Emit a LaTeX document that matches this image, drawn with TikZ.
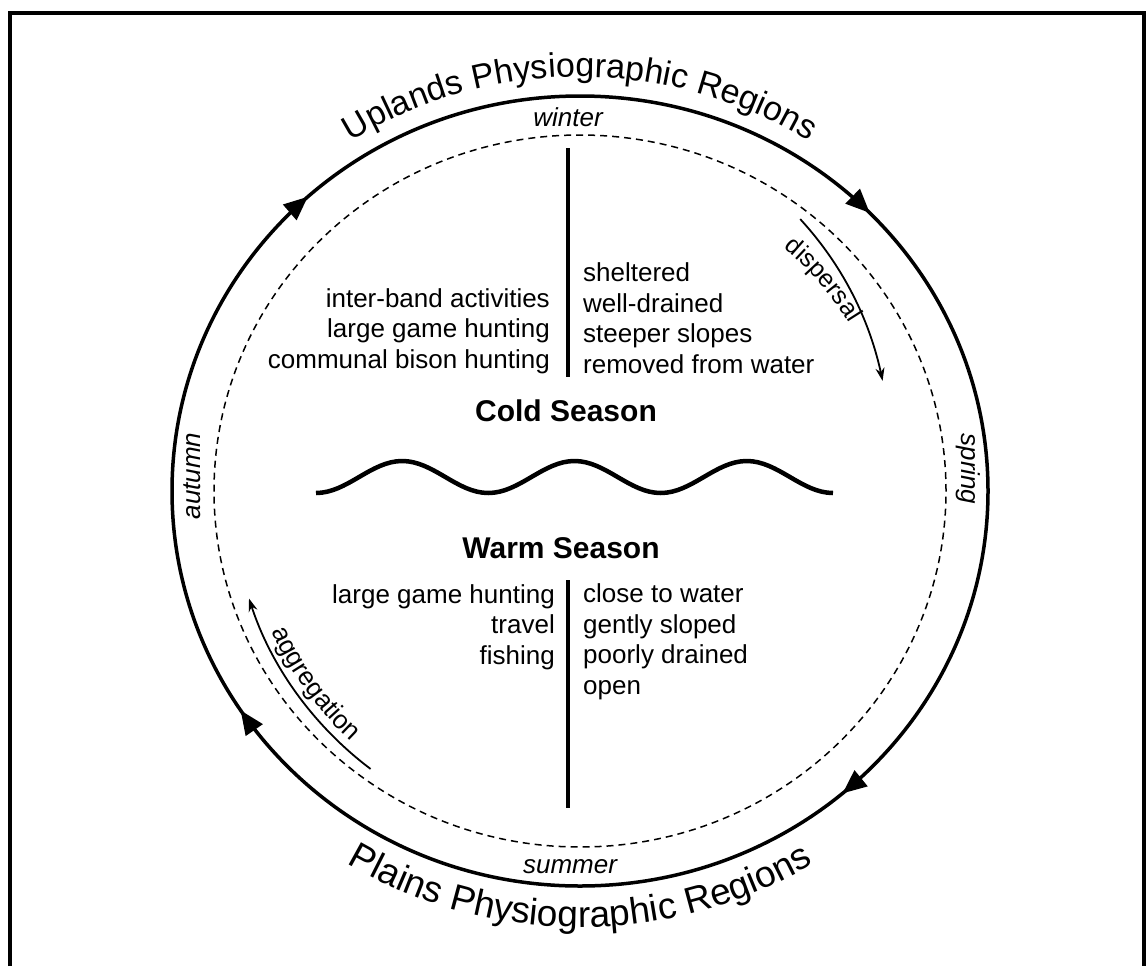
\documentclass[tikz,border=0pt]{standalone}
\usepackage{fontspec}
\setmainfont{Liberation Sans}
\usetikzlibrary{arrows.meta,decorations.text,decorations.markings}
\begin{document}
\begin{tikzpicture}[x=1pt,y=1pt,
  body/.style={font=\fontsize{26}{30.5}\selectfont, inner sep=0pt},
  heading/.style={font=\fontsize{30}{34}\selectfont\bfseries, inner sep=0pt},
  season/.style={font=\fontsize{26}{30}\selectfont\itshape, inner sep=0pt},
  divider/.style={line width=4.5pt},
  ring/.style={line width=3.5pt},
  guide/.style={line width=1.5pt, dash pattern=on 7pt off 5pt},
  flow/.style={line width=1.8pt, -{Stealth[length=13pt,width=9pt]}},
  ]
\useasboundingbox (0,0) rectangle (1147,-966);
\fill[white] (0,0) rectangle (1147,-966);
% frame
\draw[line width=4pt] (10,-966) -- (10,-13) -- (1143.5,-13) -- (1143.5,-966);
\coordinate (C) at (580,-491);
% outer ring with clockwise arrows
\draw[ring, postaction={decorate}, decoration={markings,
  mark=at position 0.123 with {\arrowreversed{Triangle[length=24pt,width=20pt]}},
  mark=at position 0.3675 with {\arrowreversed{Triangle[length=24pt,width=20pt]}},
  mark=at position 0.5925 with {\arrowreversed{Triangle[length=24pt,width=20pt]}},
  mark=at position 0.8625 with {\arrowreversed{Triangle[length=24pt,width=20pt]}}}]
  (C) ellipse [x radius=408, y radius=395];
% dashed inner ring
\draw[guide] (C) ellipse [x radius=366, y radius=356];
% curved region labels
\path[decorate, decoration={text along path, text align=center,
  text={|\fontsize{34}{34}\selectfont|Uplands Physiographic Regions}}]
  ([shift={(C)}]160:428 and 414) arc[start angle=160, end angle=20, x radius=428, y radius=414];
\path[decorate, decoration={text along path, text align=center,
  text={|\fontsize{37}{37}\selectfont|Plains Physiographic Regions}}]
  ([shift={(C)}]200:450 and 436) arc[start angle=200, end angle=340, x radius=450, y radius=436];
% season labels
\node[season] (winter) at (568,-117) {winter};
\node[season] (summer) at (570,-867) {summer};
\node[season, rotate=90] (autumn) at (192,-476) {autumn};
\node[season, rotate=-90] (spring) at (968,-469) {spring};
% dispersal / aggregation
\draw[flow] plot[smooth, samples=18, domain=51:20] ({580+(322+(\x-20)*0.9)*cos(\x)}, {-491+(322+(\x-20)*0.9)*sin(\x)});
\path[decorate, decoration={text along path, text align=center,
  text={|\fontsize{25}{25}\selectfont|dispersal}}]
  ([shift={(C)}]61:317) arc[start angle=61, end angle=21, radius=317];
\draw[flow] ([shift={(C)}]233:348) arc[start angle=233, end angle=198, radius=348];
\path[decorate, decoration={text along path, text align=center,
  text={|\fontsize{26}{26}\selectfont|aggregation}}]
  ([shift={(C)}]194:339) arc[start angle=194, end angle=238, radius=339];
% dividers
\coordinate (u1) at (568,-148);
\coordinate (u2) at (568,-377);
\coordinate (l1) at (568,-580);
\coordinate (l2) at (568,-808);
\draw[divider] (u1) -- (u2);
\draw[divider] (l1) -- (l2);
% wave
\draw[line width=4.5pt] (316,-493) cos (359.1,-477) sin (402.2,-461) cos (445.3,-477) sin (488.3,-493)
  cos (531.4,-477) sin (574.5,-461) cos (617.6,-477) sin (660.7,-493)
  cos (703.8,-477) sin (746.8,-461) cos (789.9,-477) sin (833,-493);
% texts
\node[body, align=right, anchor=east] (coldact) at (550,-331) {inter-band activities\\large game hunting\\communal bison hunting};
\node[body, align=left, anchor=west] (coldsite) at (583,-318) {sheltered\\well-drained\\steeper slopes\\removed from water};
\node[heading] (cold) at (566,-411) {Cold Season};
\node[heading] (warm) at (561,-548) {Warm Season};
\node[body, align=right, anchor=east] (warmact) at (555,-627) {large game hunting\\travel\\fishing};
\node[body, align=left, anchor=west] (warmsite) at (583,-642) {close to water\\gently sloped\\poorly drained\\open};
\end{tikzpicture}
\end{document}
